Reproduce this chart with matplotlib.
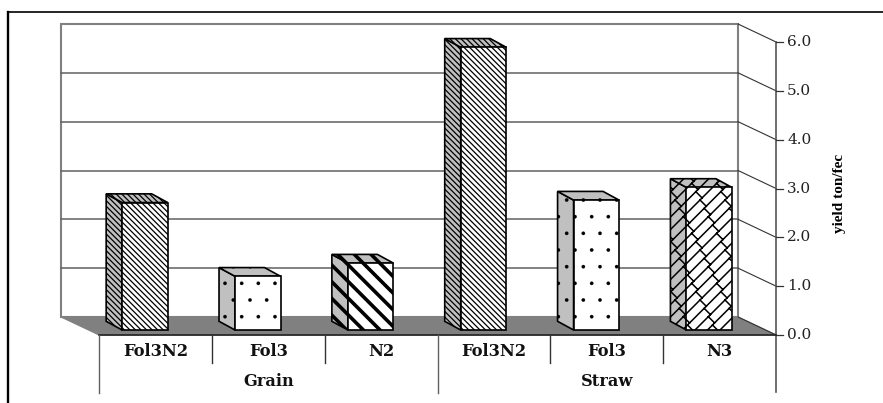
import numpy as np
import matplotlib
matplotlib.use("Agg")
import matplotlib.pyplot as plt
from matplotlib import hatch as mhatch
from matplotlib.patches import Polygon, Rectangle
from matplotlib.path import Path

# Datos
groups = ["Grain", "Straw"]
categories = ["Fol3N2", "Fol3", "N2", "Fol3N2", "Fol3", "N3"]
values = [2.61, 1.10, 1.37, 5.79, 2.66, 2.92]
hatches = ["\\" * 6, ".", "\\" * 2, "\\" * 6, ".", "O"]
hatch_widths = [0.9, 0.2, 2.6, 0.9, 0.2, 1.1]
y_ticks = [0.0, 1.0, 2.0, 3.0, 4.0, 5.0, 6.0]
ylabel = "yield ton/fec"


# Ladrillo diagonal para la ultima barra (usa la letra O)
class DiagonalBrick(mhatch.HatchPatternBase):
    def __init__(self, hatch, density):
        self.pts = []
        if "O" in hatch:
            n = 8      # lineas largas por baldosa
            m = 6      # ladrillos por linea
            for i in range(-n, n + 1):
                self.pts += [(i / n, 0.0), (i / n + 1, 1.0)]
                for j in range(-1, m + 2):
                    y = (j + 0.5 * (i % 2)) / m
                    x = i / n + y
                    if -0.1 < x < 1.1:
                        self.pts += [(x, y), (x + 0.5 / n, y - 0.5 / n)]
        self.num_vertices = len(self.pts)

    def set_vertices_and_codes(self, vertices, codes):
        if self.num_vertices:
            vertices[:] = np.array(self.pts)
            codes[0::2] = Path.MOVETO
            codes[1::2] = Path.LINETO


mhatch._hatch_types = [h for h in mhatch._hatch_types if h.__name__ != "LargeCircles"]
mhatch._hatch_types.append(DiagonalBrick)

plt.rcParams['font.family'] = ['DejaVu Serif']

W, H = 883, 403
fig = plt.figure(figsize=(W / 100, H / 100), dpi=100)
ax = fig.add_axes([0, 0, 1, 1])
ax.axis("off")

# Escala: x en categorias, y en unidades de rendimiento
x0_px, cat_px = 99.0, 112.85
y0_px, unit_px = 335.0, 48.83
ax.set_xlim(-x0_px / cat_px, (W - x0_px) / cat_px)
ax.set_ylim((y0_px - H) / unit_px, y0_px / unit_px)
px_x = 1 / cat_px
px_y = 1 / unit_px
dx = 38.0 * px_x          # profundidad de la pared
dy = 18.0 * px_y
bar_w = 45.5 * px_x
bar_shift = -10.5 * px_x
bdx = 16.0 * px_x         # profundidad de la barra
bdy = 8.7 * px_y
bar_base = 5.0 * px_y
grey = "#808080"
n = len(categories)
xmin, xmax = ax.get_xlim()
ymin, ymax = ax.get_ylim()

# Marco exterior
frame_x = xmin + 8 * px_x
frame_y = ymax - 12 * px_y
ax.plot([frame_x, xmax], [frame_y, frame_y], color="black", lw=1.2)
ax.plot([frame_x, frame_x], [frame_y, ymin], color="black", lw=1.7)

# Pared del fondo y suelo
top = y_ticks[-1]
ax.add_patch(Polygon([(-dx, dy), (n - dx, dy), (n - dx, top + dy), (-dx, top + dy)],
                     closed=True, fc="white", ec=grey, lw=1.5, zorder=1))
for t in y_ticks[1:-1]:
    ax.plot([-dx, n - dx], [t + dy, t + dy], color="#606060", lw=1.1, zorder=1.5)
ax.add_patch(Polygon([(-dx, dy), (n - dx, dy), (n, 0), (0, 0)], closed=True,
                     fc=grey, ec=grey, lw=0.8, zorder=1.6))

# Eje derecho con marcas
ax.plot([n, n], [-57 * px_y, top], color="#555555", lw=1.2, zorder=2)
for t in y_ticks:
    ax.plot([n - dx, n], [t + dy, t], color="#333333", lw=0.8, zorder=1.7)
    ax.plot([n, n + 7 * px_x], [t, t], color="#333333", lw=0.9, zorder=2)
    ax.text(n + 11 * px_x, t, f"{t:.1f}", ha="left", va="center", fontsize=11,
            color="#222222", zorder=3)
ax.text(n + 63 * px_x, 2.9, ylabel, rotation=90, ha="center", va="center",
        fontsize=11, fontweight="bold", color="black", family="Liberation Serif")

# Eje inferior
ax.plot([0, n], [0, 0], color="#222222", lw=1.2, zorder=2)
for i in range(n):
    yb = -58 * px_y if i % 3 == 0 else -28 * px_y
    ax.plot([i, i], [0, yb], color="#606060" if i % 3 == 0 else "#333333", lw=1.0, zorder=2)
for i, c in enumerate(categories):
    ax.text(i + 0.5, -17 * px_y, c, ha="center", va="center", fontsize=11.7,
            fontweight="bold", color="#111111")
for i, g in enumerate(groups):
    ax.text(1.5 + 3 * i, -47 * px_y, g, ha="center", va="center", fontsize=11.7,
            fontweight="bold", color="#111111")

# Barras 3D
for i, v in enumerate(values):
    l = i + 0.5 - bar_w / 2 + bar_shift
    r = l + bar_w
    b = bar_base
    t = b + v
    plt.rcParams['hatch.linewidth'] = hatch_widths[i]
    side = Polygon([(l, b), (l - bdx, b + bdy), (l - bdx, t + bdy), (l, t)], closed=True,
                   fc="#c0c0c0", ec="black", hatch=hatches[i], lw=1.2, zorder=4)
    cap = Polygon([(l, t), (l - bdx, t + bdy), (r - bdx, t + bdy), (r, t)], closed=True,
                  fc="#c0c0c0", ec="black", hatch=hatches[i], lw=1.2, zorder=4)
    front = Rectangle((l, b), bar_w, v, fc="white", ec="black", hatch=hatches[i], lw=1.2,
                      zorder=5)
    ax.add_patch(side)
    ax.add_patch(cap)
    ax.add_patch(front)

fig.savefig("out.png", dpi=100)
